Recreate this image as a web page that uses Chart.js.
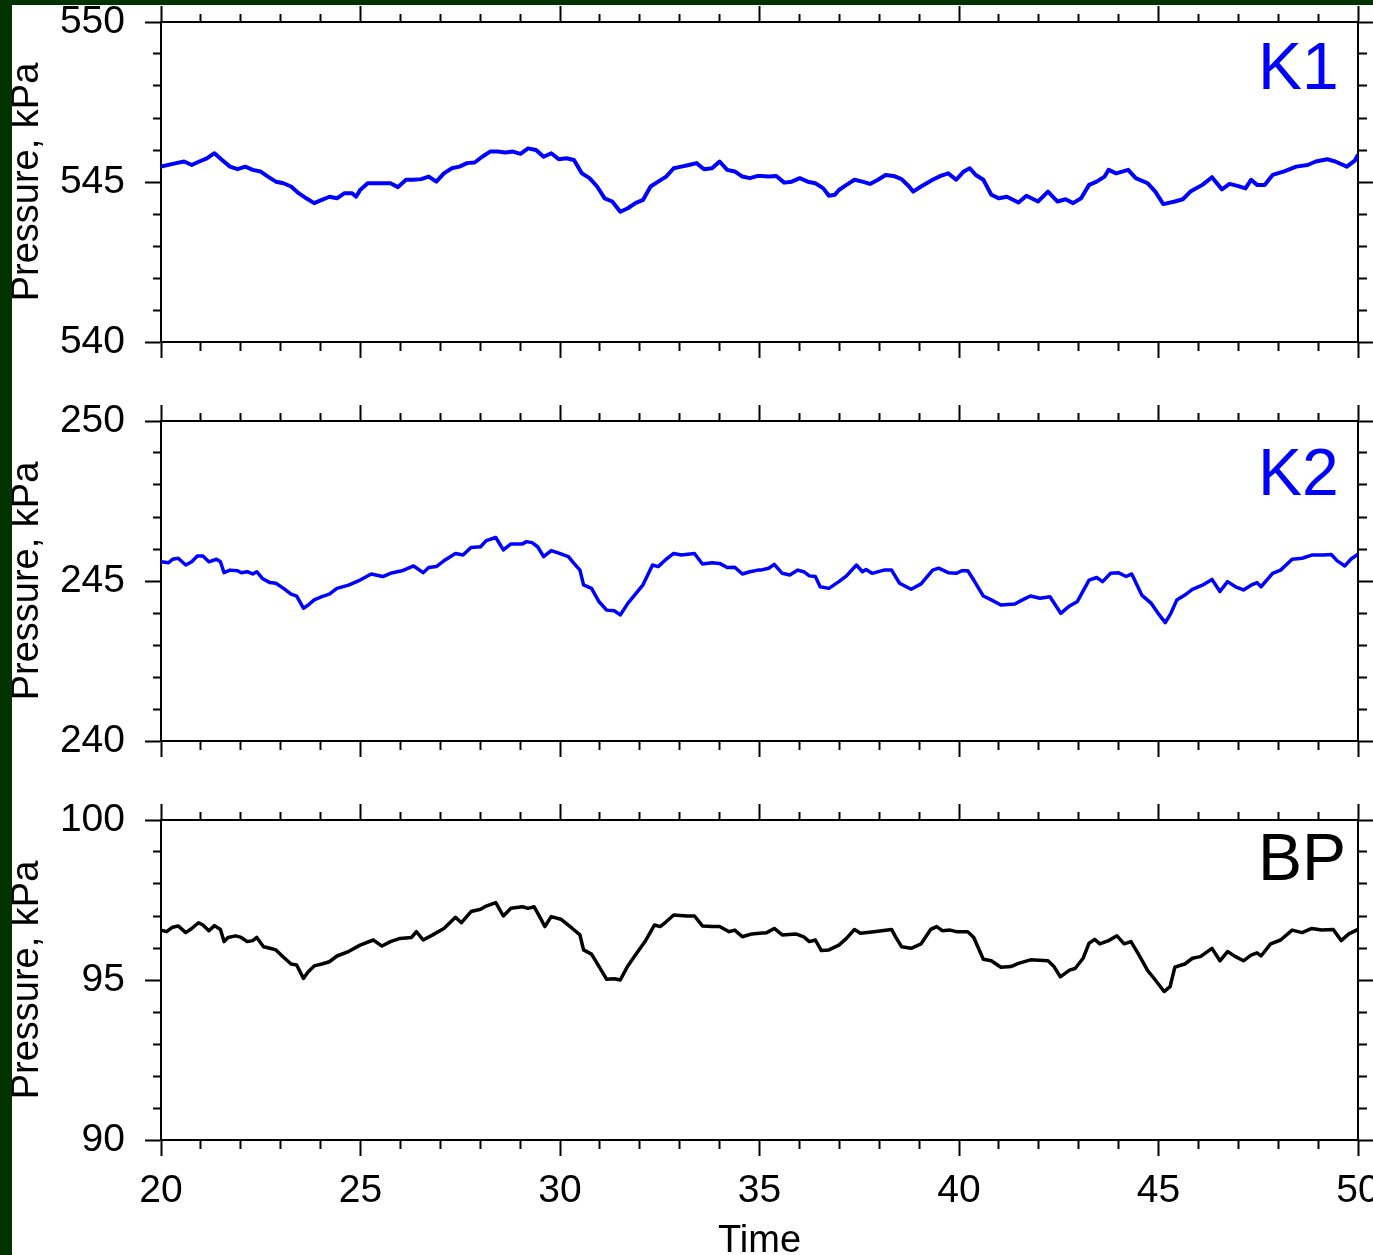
<!DOCTYPE html>
<html>
<head>
<meta charset="utf-8">
<script src="https://cdn.jsdelivr.net/npm/chart.js@4.4.1/dist/chart.umd.min.js"></script>
<style>
  html, body { margin: 0; padding: 0; background: #ffffff; width: 1373px; height: 1255px; overflow: hidden; }
  canvas { position: absolute; left: 0; }
  #c1 { top: 0; }
  #c2 { top: 399px; }
  #c3 { top: 798px; }
  .frameL { position: absolute; left: 0; top: 0; width: 12px; height: 1255px; background: #003300; z-index: 5; }
  .frameT { position: absolute; left: 0; top: 0; width: 1373px; height: 5px; background: #003300; z-index: 5; }
</style>
</head>
<body>
<canvas id="c1" width="1373" height="359"></canvas>
<canvas id="c2" width="1373" height="359"></canvas>
<canvas id="c3" width="1373" height="466"></canvas>
<div class="frameL"></div>
<div class="frameT"></div>
<script>
// ---------------- data ----------------
const panelNames = ['K1', 'K2', 'BP'];
const yRanges = [[540, 550], [240, 250], [90, 100]];
const yTickLabels = [[540, 545, 550], [240, 245, 250], [90, 95, 100]];
const xRange = [20, 50];
const xTickLabels = [20, 25, 30, 35, 40, 45, 50];
const yAxisTitle = 'Pressure, kPa';
const xAxisTitle = 'Time';

const k1Time = [20.00, 20.38, 20.58, 20.77, 20.96, 21.15, 21.34, 21.53, 21.73, 21.92, 22.11, 22.30, 22.49, 22.68, 22.88, 23.07, 23.26, 23.45, 23.64, 23.84, 24.03, 24.22, 24.41, 24.60, 24.79, 24.89, 24.99, 25.18, 25.37, 25.56, 25.75, 25.94, 26.14, 26.33, 26.52, 26.71, 26.90, 27.09, 27.29, 27.48, 27.67, 27.86, 28.05, 28.25, 28.44, 28.63, 28.82, 29.01, 29.20, 29.40, 29.59, 29.78, 29.97, 30.16, 30.35, 30.55, 30.74, 30.93, 31.12, 31.31, 31.51, 31.70, 31.89, 32.08, 32.27, 32.46, 32.66, 32.85, 33.04, 33.23, 33.42, 33.61, 33.81, 34.00, 34.19, 34.38, 34.57, 34.76, 34.96,
  35.03, 35.23, 35.42, 35.62, 35.81, 36.01, 36.21, 36.40, 36.60, 36.74, 36.89, 36.99, 37.18, 37.38, 37.58, 37.77, 37.97, 38.16, 38.36, 38.56, 38.75, 38.85, 39.05, 39.34, 39.54, 39.73, 39.93, 40.12, 40.27, 40.42, 40.61, 40.81, 41.00, 41.20, 41.49, 41.69, 41.98, 42.23, 42.47, 42.67, 42.86, 43.06, 43.26, 43.45, 43.65, 43.75, 43.94, 44.24, 44.43, 44.73, 44.92, 45.12, 45.41, 45.61, 45.80, 46.10, 46.34, 46.59, 46.78, 46.98, 47.18, 47.32, 47.47, 47.66, 47.86, 48.15, 48.45, 48.74, 48.94, 49.23, 49.43, 49.72, 49.92, 50.00];
const k1Pressure = [545.48, 545.59, 545.64, 545.53, 545.64, 545.74, 545.90, 545.69, 545.48, 545.40, 545.48, 545.38, 545.33, 545.17, 545.01, 544.96, 544.86, 544.65, 544.49, 544.34, 544.44, 544.54, 544.49, 544.65, 544.65, 544.54, 544.75, 544.96, 544.96, 544.96, 544.96, 544.84, 545.07, 545.07, 545.09, 545.17, 545.01, 545.27, 545.43, 545.48, 545.59, 545.61, 545.79, 545.95, 545.95, 545.92, 545.95, 545.88, 546.05, 546.00, 545.79, 545.90, 545.71, 545.74, 545.69, 545.27, 545.12, 544.86, 544.49, 544.39, 544.07, 544.18, 544.34, 544.44, 544.86, 545.01, 545.17, 545.43, 545.48, 545.53, 545.59, 545.40, 545.43, 545.64, 545.38, 545.33, 545.17, 545.12, 545.19,
  545.19, 545.17, 545.19, 544.98, 545.01, 545.12, 545.01, 544.96, 544.80, 544.57, 544.60, 544.75, 544.91, 545.07, 545.01, 544.94, 545.07, 545.22, 545.19, 545.09, 544.86, 544.70, 544.86, 545.07, 545.19, 545.27, 545.07, 545.33, 545.43, 545.22, 545.07, 544.60, 544.49, 544.54, 544.36, 544.57, 544.39, 544.70, 544.39, 544.46, 544.34, 544.49, 544.91, 545.01, 545.17, 545.38, 545.27, 545.38, 545.12, 544.96, 544.70, 544.31, 544.39, 544.46, 544.70, 544.91, 545.15, 544.77, 544.94, 544.88, 544.80, 545.07, 544.91, 544.91, 545.22, 545.33, 545.48, 545.53, 545.64, 545.71, 545.64, 545.48, 545.67, 545.85];

const k2Time = [20.00, 20.19, 20.29, 20.43, 20.62, 20.77, 20.91, 21.05, 21.20, 21.39, 21.49, 21.58, 21.73, 21.92, 22.01, 22.16, 22.30, 22.40, 22.54, 22.73, 22.88, 23.07, 23.26, 23.40, 23.57, 23.69, 23.84, 24.03, 24.22, 24.41, 24.70, 24.99, 25.27, 25.56, 25.75, 26.04, 26.33, 26.57, 26.71, 26.90, 27.09, 27.38, 27.57, 27.77, 28.01, 28.15, 28.39, 28.58, 28.77, 29.06, 29.16, 29.30, 29.44, 29.59, 29.78, 29.97, 30.21, 30.35, 30.50, 30.59, 30.79, 30.98, 31.17, 31.36, 31.51, 31.70, 31.89, 32.08, 32.32, 32.46, 32.66, 32.85, 33.04, 33.37, 33.57, 33.81, 34.00, 34.19, 34.38, 34.57, 34.76, 34.96,
  35.03, 35.23, 35.37, 35.57, 35.76, 35.96, 36.11, 36.25, 36.40, 36.52, 36.74, 36.99, 37.18, 37.43, 37.58, 37.67, 37.82, 38.12, 38.31, 38.51, 38.80, 39.05, 39.34, 39.49, 39.73, 39.93, 40.07, 40.22, 40.37, 40.61, 40.81, 41.05, 41.40, 41.59, 41.79, 42.03, 42.28, 42.55, 42.77, 42.96, 43.26, 43.45, 43.60, 43.80, 43.99, 44.19, 44.33, 44.58, 44.82, 45.02, 45.17, 45.31, 45.46, 45.66, 45.85, 46.10, 46.34, 46.54, 46.73, 46.93, 47.13, 47.32, 47.47, 47.57, 47.86, 48.06, 48.35, 48.60, 48.84, 49.13, 49.33, 49.48, 49.67, 49.82, 50.00];
const k2Pressure = [245.60, 245.57, 245.68, 245.71, 245.50, 245.60, 245.78, 245.78, 245.60, 245.68, 245.60, 245.26, 245.34, 245.32, 245.26, 245.29, 245.22, 245.29, 245.08, 244.95, 244.93, 244.77, 244.59, 244.53, 244.15, 244.25, 244.41, 244.51, 244.59, 244.77, 244.87, 245.03, 245.22, 245.14, 245.24, 245.32, 245.47, 245.26, 245.42, 245.45, 245.63, 245.86, 245.81, 246.05, 246.07, 246.26, 246.36, 245.97, 246.16, 246.16, 246.23, 246.20, 246.07, 245.76, 245.95, 245.87, 245.76, 245.55, 245.34, 244.88, 244.77, 244.35, 244.09, 244.07, 243.94, 244.30, 244.59, 244.88, 245.50, 245.45, 245.68, 245.86, 245.81, 245.86, 245.53, 245.57, 245.55, 245.42, 245.43, 245.22, 245.29, 245.34,
  245.34, 245.40, 245.52, 245.24, 245.19, 245.34, 245.29, 245.16, 245.14, 244.82, 244.77, 244.98, 245.16, 245.50, 245.29, 245.36, 245.24, 245.34, 245.34, 244.93, 244.74, 244.91, 245.34, 245.40, 245.26, 245.24, 245.32, 245.32, 245.03, 244.53, 244.41, 244.25, 244.28, 244.41, 244.53, 244.46, 244.51, 243.99, 244.22, 244.35, 245.03, 245.11, 244.98, 245.24, 245.26, 245.14, 245.22, 244.56, 244.30, 243.94, 243.70, 243.99, 244.41, 244.56, 244.74, 244.87, 245.05, 244.67, 244.98, 244.82, 244.72, 244.87, 244.95, 244.82, 245.24, 245.34, 245.68, 245.71, 245.81, 245.81, 245.83, 245.63, 245.47, 245.68, 245.84];

const bpTime = [20.00, 20.14, 20.29, 20.43, 20.62, 20.77, 20.94, 21.05, 21.20, 21.34, 21.49, 21.58, 21.68, 21.87, 22.01, 22.16, 22.30, 22.40, 22.57, 22.73, 22.88, 23.07, 23.26, 23.40, 23.57, 23.69, 23.84, 24.03, 24.22, 24.41, 24.70, 24.99, 25.32, 25.54, 25.75, 25.99, 26.28, 26.40, 26.57, 26.81, 27.09, 27.38, 27.53, 27.77, 28.01, 28.15, 28.39, 28.58, 28.77, 29.06, 29.20, 29.35, 29.49, 29.62, 29.78, 30.02, 30.31, 30.50, 30.59, 30.79, 30.98, 31.17, 31.36, 31.51, 31.70, 31.89, 32.13, 32.37, 32.51, 32.66, 32.85, 33.18, 33.37, 33.57, 33.81, 34.00, 34.24, 34.38, 34.57, 34.81, 35.00,
  35.18, 35.37, 35.57, 35.91, 36.11, 36.25, 36.40, 36.55, 36.74, 36.99, 37.18, 37.38, 37.53, 37.87, 38.31, 38.41, 38.56, 38.80, 39.05, 39.29, 39.44, 39.58, 39.78, 39.93, 40.22, 40.37, 40.61, 40.81, 41.05, 41.30, 41.49, 41.79, 42.23, 42.38, 42.54, 42.77, 42.91, 43.11, 43.26, 43.40, 43.53, 43.75, 43.96, 44.14, 44.31, 44.48, 44.73, 44.92, 45.14, 45.29, 45.41, 45.66, 45.85, 46.05, 46.34, 46.54, 46.73, 46.93, 47.13, 47.32, 47.47, 47.57, 47.81, 48.06, 48.35, 48.60, 48.84, 49.09, 49.38, 49.58, 49.77, 50.00];
const bpPressure = [96.56, 96.51, 96.65, 96.69, 96.48, 96.61, 96.79, 96.72, 96.54, 96.70, 96.58, 96.20, 96.33, 96.38, 96.33, 96.20, 96.23, 96.33, 96.04, 95.99, 95.94, 95.71, 95.50, 95.47, 95.05, 95.26, 95.44, 95.50, 95.57, 95.75, 95.89, 96.09, 96.25, 96.06, 96.20, 96.30, 96.33, 96.51, 96.25, 96.41, 96.61, 96.96, 96.79, 97.14, 97.21, 97.31, 97.42, 97.00, 97.24, 97.29, 97.24, 97.29, 96.98, 96.67, 96.98, 96.90, 96.61, 96.41, 95.94, 95.81, 95.42, 95.02, 95.04, 95.00, 95.44, 95.78, 96.20, 96.72, 96.67, 96.82, 97.03, 97.00, 97.00, 96.69, 96.67, 96.67, 96.51, 96.56, 96.35, 96.44, 96.46,
  96.48, 96.61, 96.41, 96.44, 96.35, 96.20, 96.25, 95.92, 95.94, 96.09, 96.30, 96.58, 96.46, 96.51, 96.58, 96.35, 96.04, 95.99, 96.13, 96.58, 96.67, 96.54, 96.56, 96.51, 96.51, 96.33, 95.65, 95.60, 95.40, 95.42, 95.52, 95.63, 95.60, 95.42, 95.10, 95.31, 95.36, 95.68, 96.15, 96.27, 96.13, 96.23, 96.38, 96.13, 96.20, 95.85, 95.29, 95.00, 94.64, 94.79, 95.40, 95.50, 95.68, 95.73, 95.99, 95.60, 95.89, 95.73, 95.60, 95.78, 95.85, 95.75, 96.13, 96.25, 96.56, 96.48, 96.61, 96.56, 96.58, 96.23, 96.44, 96.58];

const seriesTimes = [k1Time, k2Time, bpTime];
const seriesValues = [k1Pressure, k2Pressure, bpPressure];

// ---------------- styles ----------------
const FONT = '"Liberation Sans", Arial, Helvetica, sans-serif';
const lineColors = ['#0000ff', '#0000ff', '#000000'];
const lineWidths = [4, 3.5, 3.5];
const nameOffsetsY = [67, 74, 60];
const canvasIds = ['c1', 'c2', 'c3'];

function isMajor(c) {
  return c.tick && Math.abs(Math.round(c.tick.value) % 5) === 0;
}
function axisGrid(gapFirst) {
  return {
    display: true,
    drawOnChartArea: false,
    drawTicks: true,
    tickLength: 16,
    tickWidth: 2,
    tickColor: '#000000',
    tickBorderDash: (c) => isMajor(c) ? [] : [8, 8],
    tickBorderDashOffset: (c) => (isMajor(c) || !gapFirst) ? 0 : 8
  };
}
function fixSize(size, dim) {
  return (s) => {
    s[dim] = size;
    s.paddingLeft = 0; s.paddingRight = 0; s.paddingTop = 0; s.paddingBottom = 0;
  };
}
const border = { display: true, color: '#000000', width: 2 };

const panelTextPlugin = {
  id: 'panelText',
  afterDraw(chart, args, opts) {
    const { ctx, chartArea } = chart;
    ctx.save();
    ctx.font = '66px ' + FONT;
    ctx.fillStyle = opts.color;
    ctx.textAlign = 'left';
    ctx.textBaseline = 'alphabetic';
    ctx.fillText(opts.text, chartArea.left + 1097, chartArea.top + opts.dy);
    ctx.restore();
  }
};

panelNames.forEach((name, i) => {
  const times = seriesTimes[i];
  const vals = seriesValues[i];
  const n = Math.min(times.length, vals.length);
  const pts = [];
  for (let k = 0; k < n; k++) pts.push({ x: times[k], y: vals[k] });
  const isLast = i === panelNames.length - 1;

  new Chart(document.getElementById(canvasIds[i]), {
    type: 'line',
    data: {
      datasets: [{
        label: name,
        data: pts,
        borderColor: lineColors[i],
        borderWidth: lineWidths[i],
        pointRadius: 0,
        tension: 0,
        borderJoinStyle: 'round',
        fill: false
      }]
    },
    options: {
      responsive: false,
      animation: false,
      devicePixelRatio: 1,
      layout: { padding: 0 },
      plugins: {
        legend: { display: false },
        tooltip: { enabled: false },
        panelText: { text: name, color: lineColors[i], dy: nameOffsetsY[i] }
      },
      scales: {
        x: {
          type: 'linear', position: 'bottom', min: xRange[0], max: xRange[1],
          ticks: {
            stepSize: 1, autoSkip: false, maxRotation: 0, minRotation: 0,
            display: isLast, padding: 16, color: '#000000',
            font: { family: FONT, size: 39, lineHeight: 1 },
            callback: (v) => xTickLabels.includes(v) ? String(v) : ''
          },
          grid: axisGrid(false),
          border: border,
          title: {
            display: isLast, text: xAxisTitle, color: '#000000',
            font: { family: FONT, size: 38, lineHeight: 1.2 },
            padding: { top: 0, bottom: 0 }
          },
          afterFit: fixSize(isLast ? 124 : 17, 'height')
        },
        x2: {
          type: 'linear', position: 'top', min: xRange[0], max: xRange[1],
          ticks: { stepSize: 1, autoSkip: false, display: false },
          grid: axisGrid(true),
          border: border,
          afterFit: fixSize(22, 'height')
        },
        y: {
          type: 'linear', position: 'left', min: yRanges[i][0], max: yRanges[i][1],
          ticks: {
            stepSize: 1, autoSkip: false, padding: 20, color: '#000000',
            font: { family: FONT, size: 39, lineHeight: 1 },
            callback: (v) => yTickLabels[i].includes(v) ? String(v) : ''
          },
          grid: axisGrid(true),
          border: border,
          title: {
            display: true, text: yAxisTitle, color: '#000000',
            font: { family: FONT, size: 38, lineHeight: 1.2 },
            padding: { top: 5, bottom: 0 }
          },
          afterFit: fixSize(161, 'width')
        },
        y2: {
          type: 'linear', position: 'right', min: yRanges[i][0], max: yRanges[i][1],
          ticks: { stepSize: 1, autoSkip: false, display: false },
          grid: axisGrid(false),
          border: border,
          afterFit: fixSize(15, 'width')
        }
      }
    },
    plugins: [panelTextPlugin]
  });
});
</script>
</body>
</html>
